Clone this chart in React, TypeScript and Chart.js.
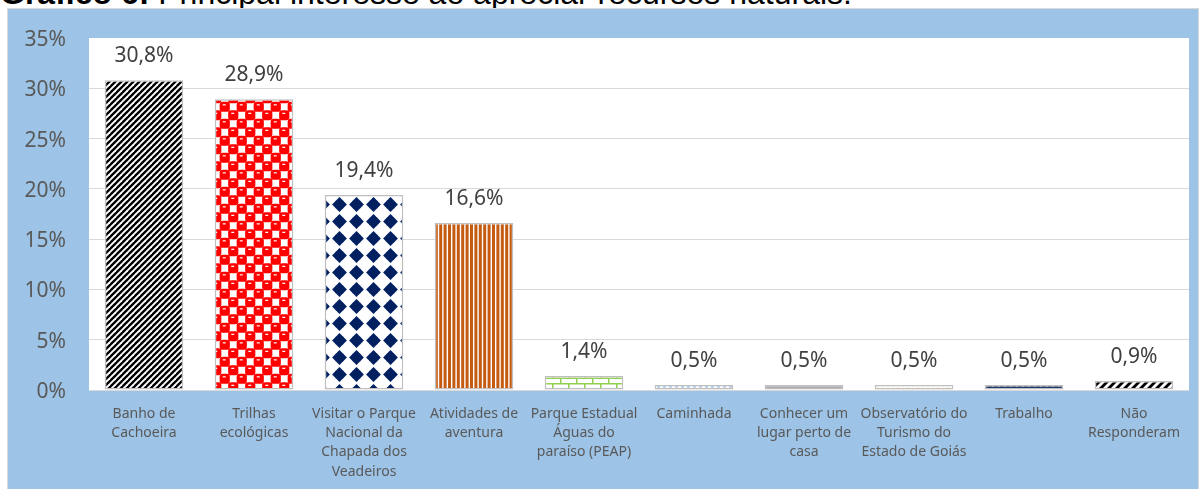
import React, { useEffect, useRef } from 'react';
import { Chart, registerables } from 'chart.js';

Chart.register(...registerables);

const categories: string[][] = [
  ['Banho de', 'Cachoeira'],
  ['Trilhas', 'ecológicas'],
  ['Visitar o Parque', 'Nacional da', 'Chapada dos', 'Veadeiros'],
  ['Atividades de', 'aventura'],
  ['Parque Estadual', 'Águas do', 'paraíso (PEAP)'],
  ['Caminhada'],
  ['Conhecer um', 'lugar perto de', 'casa'],
  ['Observatório do', 'Turismo do', 'Estado de Goiás'],
  ['Trabalho'],
  ['Não', 'Responderam'],
];
const values: number[] = [30.8, 28.9, 19.4, 16.6, 1.4, 0.5, 0.5, 0.5, 0.5, 0.9];
const yMin = 0;
const yMax = 35;
const yStep = 5;
const titleBold = 'Gráfico 6:';
const titleRest = ' Principal interesse ao apreciar recursos naturais.';

const fmt = (v: number) => v.toFixed(1).replace('.', ',') + '%';
const tickFmt = (v: number) => v + '%';

type Draw = (g: CanvasRenderingContext2D, w: number, h: number) => void;

function tile(ctx: CanvasRenderingContext2D, w: number, h: number, draw: Draw): CanvasPattern {
  const c = document.createElement('canvas');
  c.width = w;
  c.height = h;
  const g = c.getContext('2d')!;
  draw(g, w, h);
  return ctx.createPattern(c, 'repeat')!;
}

function stripes(ctx: CanvasRenderingContext2D, P: number, frac: number, color: string) {
  return tile(ctx, P, P, (g) => {
    g.fillStyle = '#ffffff';
    g.fillRect(0, 0, P, P);
    g.strokeStyle = color;
    g.lineWidth = (P / Math.SQRT2) * frac;
    const h = P;
    for (const c of [-P, 0, P, 2 * P, 3 * P]) {
      g.beginPath();
      g.moveTo(c + h, -h);
      g.lineTo(c - P - h, P + h);
      g.stroke();
    }
  });
}

function roundRect(g: CanvasRenderingContext2D, x: number, y: number, w: number, h: number, r: number) {
  g.beginPath();
  g.moveTo(x + r, y);
  g.lineTo(x + w - r, y);
  g.quadraticCurveTo(x + w, y, x + w, y + r);
  g.lineTo(x + w, y + h - r);
  g.quadraticCurveTo(x + w, y + h, x + w - r, y + h);
  g.lineTo(x + r, y + h);
  g.quadraticCurveTo(x, y + h, x, y + h - r);
  g.lineTo(x, y + r);
  g.quadraticCurveTo(x, y, x + r, y);
  g.closePath();
  g.fill();
}

function makePatterns(ctx: CanvasRenderingContext2D): (CanvasPattern | string)[] {
  const p1 = stripes(ctx, 6, 0.55, '#000000');
  const p2 = tile(ctx, 17, 17, (g, T) => {
    g.fillStyle = '#ffffff';
    g.fillRect(0, 0, T, T);
    const s = 10.2;
    for (const [cx, cy] of [[4.25, 4.25], [12.75, 12.75]]) {
      for (const dx of [-T, 0, T]) {
        for (const dy of [-T, 0, T]) {
          g.fillStyle = '#ff0000';
          roundRect(g, cx + dx - s / 2, cy + dy - s / 2, s, s, 3);
          g.fillStyle = '#ffffff';
          g.fillRect(cx + dx - 2, cy + dy - 2.5, 3, 1.2);
        }
      }
    }
  });
  const p3 = tile(ctx, 17, 17, (g, T) => {
    g.fillStyle = '#ffffff';
    g.fillRect(0, 0, T, T);
    g.fillStyle = '#002060';
    const c = T / 2;
    const r = 7.4;
    g.beginPath();
    g.moveTo(c, c - r);
    g.lineTo(c + r, c);
    g.lineTo(c, c + r);
    g.lineTo(c - r, c);
    g.closePath();
    g.fill();
    g.fillRect(c - 3.8, c - 3.8, 7.6, 7.6);
  });
  const p4 = tile(ctx, 22, 4, (g) => {
    g.fillStyle = '#ffffff';
    g.fillRect(0, 0, 22, 4);
    g.fillStyle = '#C55A11';
    for (let i = 0; i < 5; i++) g.fillRect(i * 4.4, 0, 3, 4);
  });
  const p5 = tile(ctx, 16, 11, (g) => {
    g.fillStyle = '#ffffff';
    g.fillRect(0, 0, 16, 11);
    g.strokeStyle = '#92D050';
    g.lineWidth = 1.5;
    g.beginPath();
    g.moveTo(0, 0.75); g.lineTo(16, 0.75);
    g.moveTo(0, 6.25); g.lineTo(16, 6.25);
    g.moveTo(0.75, 0); g.lineTo(0.75, 5.5);
    g.moveTo(8.75, 5.5); g.lineTo(8.75, 11);
    g.stroke();
  });
  const p6 = tile(ctx, 6, 5, (g) => {
    g.fillStyle = '#ffffff';
    g.fillRect(0, 0, 6, 5);
    g.fillStyle = '#8FB4E3';
    g.fillRect(1, 2, 3, 1.5);
  });
  const p7 = '#A9A9A9';
  const p8 = tile(ctx, 10, 6, (g) => {
    g.fillStyle = '#ffffff';
    g.fillRect(0, 0, 10, 6);
    g.strokeStyle = '#F4B183';
    g.lineWidth = 1.3;
    g.beginPath();
    g.moveTo(0, 1); g.lineTo(5, 5); g.lineTo(10, 1);
    g.stroke();
  });
  const p9 = tile(ctx, 6, 4, (g) => {
    g.fillStyle = '#203864';
    g.fillRect(0, 0, 6, 4);
    g.fillStyle = '#ffffff';
    g.fillRect(0, 0, 1.5, 1.5);
  });
  const p10 = stripes(ctx, 8, 0.5, '#000000');
  return [p1, p2, p3, p4, p5, p6, p7, p8, p9, p10];
}

const chartAreaBg = {
  id: 'chartAreaBg',
  beforeDraw(chart: any) {
    const { ctx, chartArea } = chart;
    ctx.save();
    ctx.fillStyle = '#ffffff';
    ctx.fillRect(chartArea.left, chartArea.top, chartArea.right - chartArea.left, chartArea.bottom - chartArea.top);
    ctx.restore();
  },
};

const dataLabels = {
  id: 'dataLabels',
  afterDatasetsDraw(chart: any) {
    const { ctx } = chart;
    const meta = chart.getDatasetMeta(0);
    ctx.save();
    ctx.font = '21px "Noto Sans"';
    ctx.fillStyle = '#404040';
    ctx.textAlign = 'center';
    ctx.textBaseline = 'middle';
    meta.data.forEach((el: any, i: number) => {
      ctx.fillText(fmt(values[i]), el.x, el.y - 24);
    });
    ctx.restore();
  },
};

const yLabels = {
  id: 'yLabels',
  afterDraw(chart: any) {
    const { ctx } = chart;
    const scale = chart.scales.y;
    ctx.save();
    ctx.font = '21px "Noto Sans"';
    ctx.fillStyle = '#595959';
    ctx.textAlign = 'right';
    ctx.textBaseline = 'middle';
    scale.ticks.forEach((t: any) => {
      ctx.fillText(tickFmt(t.value), scale.right - 23, scale.getPixelForValue(t.value) + 2);
    });
    ctx.restore();
  },
};

export default function App() {
  const ref = useRef<HTMLCanvasElement>(null);

  useEffect(() => {
    const canvas = ref.current!;
    const ctx = canvas.getContext('2d')!;
    const patterns = makePatterns(ctx);
    const chart = new Chart(ctx, {
      type: 'bar',
      data: {
        labels: categories,
        datasets: [
          {
            data: values,
            backgroundColor: patterns as any,
            borderColor: '#BFBFBF',
            borderWidth: 1.5,
            borderSkipped: false,
            barPercentage: 0.714,
            categoryPercentage: 1,
          },
        ],
      },
      options: {
        responsive: false,
        animation: false,
        devicePixelRatio: 1,
        layout: { padding: { left: 0, right: 9, top: 29, bottom: 0 } },
        plugins: { legend: { display: false }, tooltip: { enabled: false }, title: { display: false } },
        scales: {
          x: {
            grid: { display: false, drawTicks: false },
            border: { display: false },
            ticks: {
              color: '#595959',
              font: { family: 'Noto Sans', size: 14, lineHeight: 1.38 },
              padding: 14,
              maxRotation: 0,
              minRotation: 0,
              autoSkip: false,
            },
            afterFit(scale: any) {
              scale.height = 99;
              scale.paddingLeft = 0;
              scale.paddingRight = 0;
            },
          },
          y: {
            min: yMin,
            max: yMax,
            grid: {
              color: (c: any) => (c.tick && c.tick.value === yMax ? 'rgba(0,0,0,0)' : '#D9D9D9'),
              lineWidth: 1,
              drawTicks: false,
            },
            border: { display: false },
            ticks: {
              stepSize: yStep,
              color: 'rgba(0,0,0,0)',
              font: { family: 'Noto Sans', size: 21 },
              padding: 23,
              callback: (v: any) => tickFmt(v),
            },
            afterFit(scale: any) {
              scale.width = 81;
              scale.paddingTop = 0;
              scale.paddingBottom = 0;
            },
          },
        },
      },
      plugins: [chartAreaBg, dataLabels, yLabels],
    });
    return () => chart.destroy();
  }, []);

  return (
    <div style={{ position: 'absolute', left: 0, top: 0, width: 1204, height: 489, overflow: 'hidden', background: '#ffffff' }}>
      <div
        style={{
          position: 'absolute',
          left: 0,
          top: -23,
          whiteSpace: 'nowrap',
          fontFamily: '"Liberation Sans", Arial, sans-serif',
          fontSize: 32,
          lineHeight: '32px',
          color: '#000000',
        }}
      >
        <b>{titleBold}</b>
        <span>{titleRest}</span>
      </div>
      <div
        style={{
          position: 'absolute',
          left: 7,
          top: 8,
          width: 1192,
          height: 500,
          boxSizing: 'border-box',
          border: '1px solid #D9D9D9',
          background: '#9DC3E6',
        }}
      />
      <canvas
        ref={ref}
        width={1190}
        height={480}
        style={{ position: 'absolute', left: 8, top: 9, width: 1190, height: 480 }}
      />
    </div>
  );
}
